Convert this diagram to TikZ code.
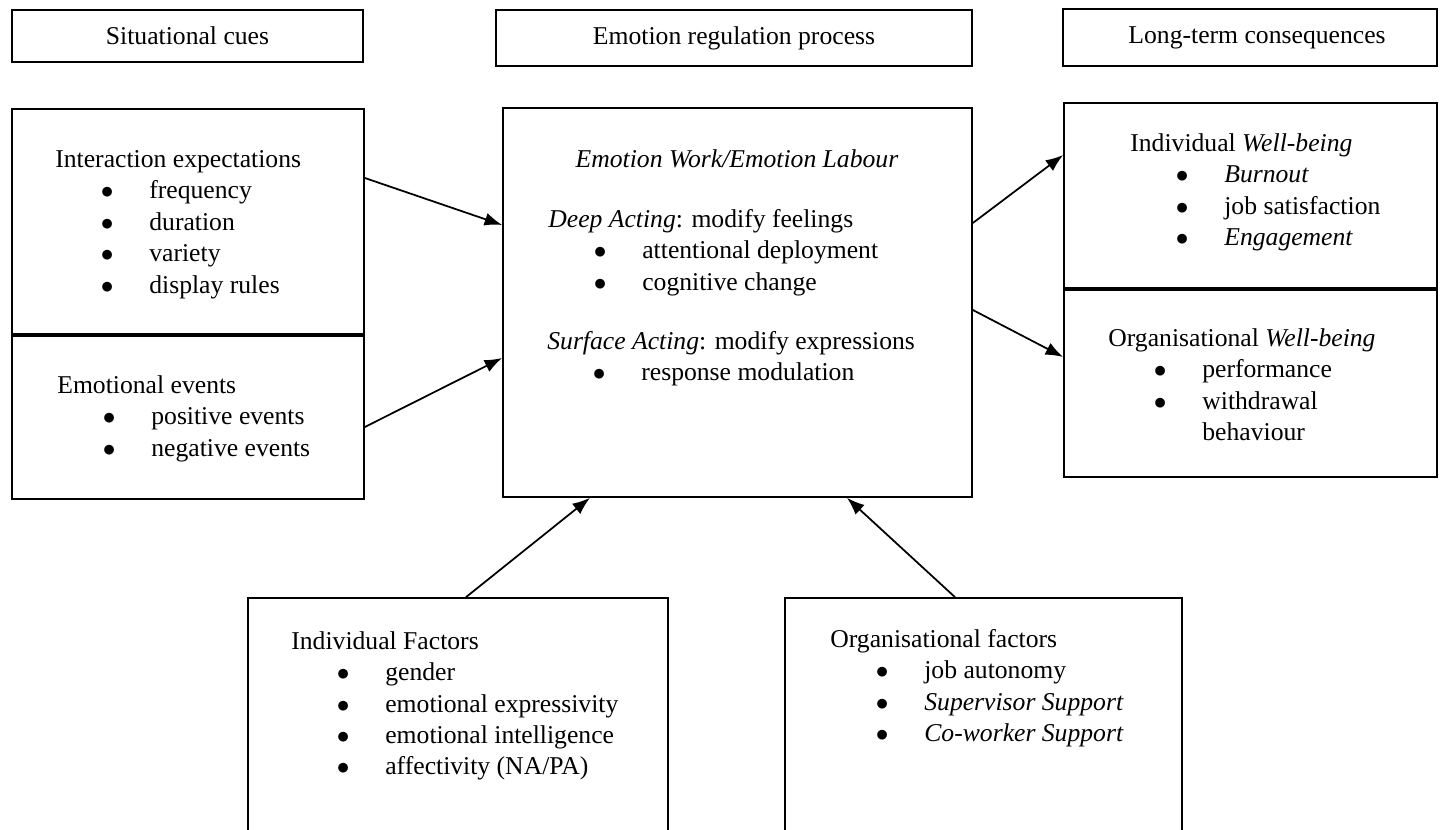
\documentclass[tikz,border=0pt]{standalone}
\usepackage{fontspec}
\setmainfont{Liberation Serif}
\usetikzlibrary{arrows.meta, positioning}
\newcommand{\bl}[1]{\hspace*{25.9pt}\makebox[27.6pt][l]{$\bullet$}#1}

\begin{document}
\begin{tikzpicture}[x=0.02cm, y=-0.02cm,
    font=\fontsize{14.6pt}{17.9pt}\selectfont,
    box/.style={draw, line width=1pt, inner sep=0pt},
    txt/.style={anchor=north west, align=left, inner sep=0pt},
    arr/.style={-{Latex[length=10pt, width=7.5pt]}, line width=1pt}]
    \useasboundingbox (0,0) rectangle (1440,830);
    \clip (0,0) rectangle (1440,830);

    % headings
    \node[box, minimum width=7.02cm, minimum height=1.04cm] (sit) at (187.5,36) {Situational cues};
    \node[box, minimum width=9.52cm, minimum height=1.12cm] (reg) at (734,38) {Emotion regulation process};
    \node[box, minimum width=7.48cm, minimum height=1.14cm] (cons) at (1250,37.5) {\hspace*{8pt}Long-term consequences};

    % boxes
    \node[box, minimum width=7.04cm, minimum height=4.5cm] (inter) at (188,221.5) {};
    \node[box, minimum width=7.04cm, minimum height=3.26cm, below=0pt of inter] (events) {};
    \node[box, minimum width=9.38cm, minimum height=7.78cm] (emo) at (737.5,302.5) {};
    \node[box, minimum width=7.46cm, minimum height=3.7cm] (indwb) at (1250.5,195.5) {};
    \node[box, minimum width=7.46cm, minimum height=3.74cm, below=0pt of indwb] (orgwb) {};
    \node[box, minimum width=8.4cm, minimum height=5.04cm] (indf) at (458,724) {};
    \node[box, minimum width=7.94cm, minimum height=5.04cm] (orgf) at (983.5,724) {};

    % texts
    \node[txt] (inter-t) at (55,150) {Interaction expectations\\
      \bl{frequency}\\ \bl{duration}\\ \bl{variety}\\ \bl{display rules}};
    \node[txt] (events-t) at (57,375) {Emotional events\\
      \bl{positive events}\\ \bl{negative events}};
    \node[anchor=north, inner sep=0pt] (emo-t) at (737,149) {\textit{Emotion Work/Emotion Labour}};
    \node[txt] (deep-t) at (548,209) {\textit{Deep Acting}: modify feelings\\
      \bl{attentional deployment}\\ \bl{cognitive change}};
    \node[txt] (surf-t) at (547,331) {\textit{Surface Acting}: modify expressions\\
      \bl{response modulation}};
    \node[txt] (indwb-t) at (1130,133) {Individual \textit{Well-being}\\
      \bl{\textit{Burnout}}\\ \bl{job satisfaction}\\ \bl{\textit{Engagement}}};
    \node[txt] (orgwb-t) at (1108,328) {Organisational \textit{Well-being}\\
      \bl{performance}\\ \bl{withdrawal}\\ \hspace*{53.5pt}behaviour};
    \node[txt] (indf-t) at (291,631) {Individual Factors\\
      \bl{gender}\\ \bl{emotional expressivity}\\ \bl{emotional intelligence}\\ \bl{affectivity (NA/PA)}};
    \node[txt] (orgf-t) at (830,629) {Organisational factors\\
      \bl{job autonomy}\\ \bl{\textit{Supervisor Support}}\\ \bl{\textit{Co-worker Support}}};

    % arrows
    \draw[arr] (inter.east |- 0,178) -- (emo.west |- 0,225);
    \draw[arr] (events.east |- 0,427) -- (emo.west |- 0,358);
    \draw[arr] (emo.east |- 0,223) -- (indwb.west |- 0,155);
    \draw[arr] (emo.east |- 0,310) -- (orgwb.west |- 0,357);
    \draw[arr] (indf.north -| 466,0) -- (emo.south -| 590,0);
    \draw[arr] (orgf.north -| 955,0) -- (emo.south -| 847,0);
\end{tikzpicture}
\end{document}
